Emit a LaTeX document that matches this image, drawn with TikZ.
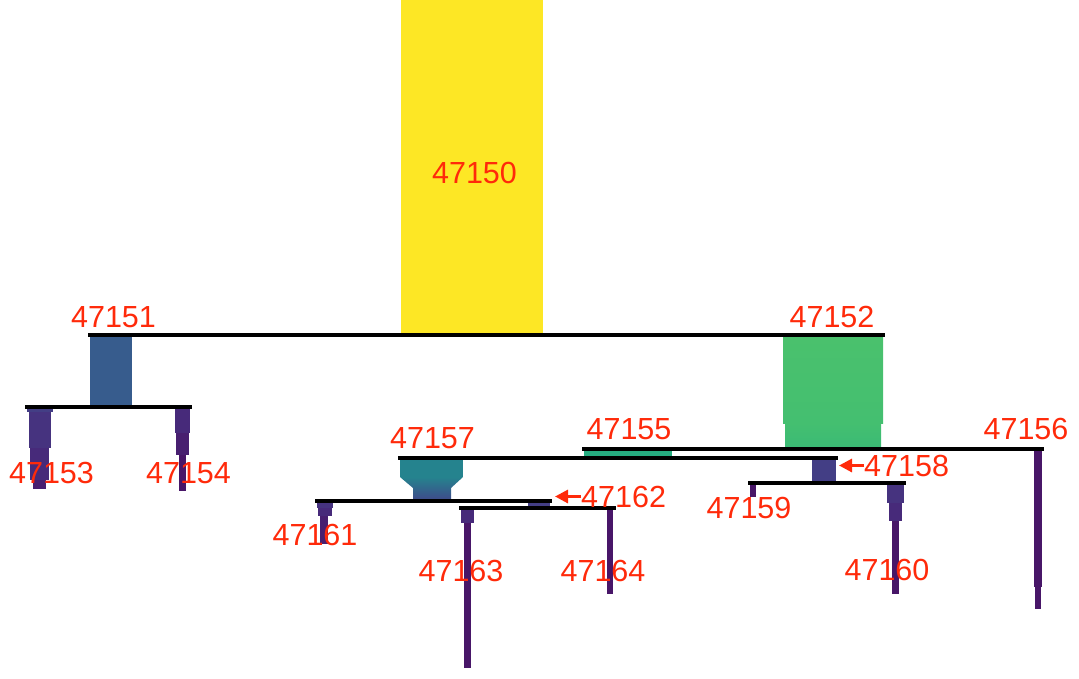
\documentclass[tikz,border=0pt]{standalone}
\usepackage{fontspec}
\setmainfont{Liberation Sans}
\usetikzlibrary{arrows.meta}
\definecolor{lab}{HTML}{FF2A0A}
\definecolor{cyel}{HTML}{FDE725}
\definecolor{cblue}{HTML}{375C8D}
\definecolor{cgreenA}{HTML}{4AC16D}
\definecolor{cgreenM}{HTML}{44BF70}
\definecolor{cgreenB}{HTML}{3BBB75}
\definecolor{cteal}{HTML}{26AD81}
\definecolor{cteal2}{HTML}{25838E}
\definecolor{cblue2}{HTML}{3E4C8A}
\definecolor{pA}{HTML}{433E85}
\definecolor{pB}{HTML}{46337F}
\definecolor{pC}{HTML}{472A7A}
\definecolor{pD}{HTML}{481F70}
\definecolor{pE}{HTML}{481668}
\tikzset{
  lbl/.style={text=lab,font=\fontsize{30.5}{36}\selectfont,inner sep=0pt,anchor=base},
  lblw/.style={lbl,anchor=base west},
  hline/.style={line width=4pt,black},
  arr/.style={draw=lab,line width=3pt,-{Triangle[length=13pt,width=13pt]}},
}
\begin{document}
\begin{tikzpicture}[x=1pt,y=-1pt]
\useasboundingbox (0,0) rectangle (1079,678);
% bars
\fill[cyel] (401,0) rectangle (543,333);
\fill[cblue] (90,336) rectangle (132,405);
% 47153
\fill[pA] (27,408) rectangle (53,412);
\fill[pB] (29,412) rectangle (51,448);
\fill[pC] (30,448) rectangle (49,480);
\fill[pD] (33,480) rectangle (46,489);
% 47154
\fill[pC] (175,408) rectangle (190,433);
\fill[pD] (176,433) rectangle (189,455);
\fill[pE] (179,455) rectangle (186,491);
% 47152
\shade[top color=cgreenA,bottom color=cgreenM] (783,336) rectangle (883,423);
\shade[top color=cgreenM,bottom color=cgreenB] (785,423) rectangle (881,447);
% 47155
\fill[cteal] (584,450) rectangle (672,455.5);
% 47156
\fill[pE] (1034,450) rectangle (1042,587);
\fill[pE] (1035,587) rectangle (1041,609);
% 47157
\fill[cteal2] (400,459) rectangle (463,477);
\shade[top color=cteal2,bottom color=cblue2] (400,477) -- (463,477) -- (451,488) -- (451,499) -- (413,499) -- (413,488) -- cycle;
% 47158
\fill[pA] (812,459) rectangle (836,481);
% 47159
\fill[pE] (750,485) rectangle (756,497);
% 47160
\fill[pB] (887,485) rectangle (904,503);
\fill[pC] (889,503) rectangle (902,521);
\fill[pE] (892,521) rectangle (899,594);
% 47161
\fill[pB] (317,503) rectangle (333,508);
\fill[pC] (318,508) rectangle (332,516);
\fill[pD] (320,516) rectangle (328,544);
% 47162
\fill[pA] (528,502.5) rectangle (550,506.5);
% 47163
\fill[pC] (461,510) rectangle (474,523);
\fill[pE] (464,523) rectangle (471,668);
% 47164
\fill[pE] (607,510) rectangle (613,594);
% horizontal lines
\coordinate (a1) at (88,334.8);   \coordinate (a2) at (885,334.8);
\coordinate (b1) at (25,407);     \coordinate (b2) at (192,407);
\coordinate (c1) at (582,448.5);  \coordinate (c2) at (1044,448.5);
\coordinate (d1) at (398,457.5);  \coordinate (d2) at (838,457.5);
\coordinate (e1) at (315,501);    \coordinate (e2) at (552,501);
\coordinate (f1) at (459,508.3);  \coordinate (f2) at (616,508.3);
\coordinate (g1) at (748,483);    \coordinate (g2) at (906,483);
\draw[hline] (a1) -- (a2);
\draw[hline] (b1) -- (b2);
\draw[hline] (c1) -- (c2);
\draw[hline] (d1) -- (d2);
\draw[hline] (e1) -- (e2);
\draw[hline] (f1) -- (f2);
\draw[hline] (g1) -- (g2);
% labels
\node[lbl] (l47150) at (474.5,183) {47150};
\node[lbl] (l47151) at (113.5,327) {47151};
\node[lbl] (l47152) at (832,327) {47152};
\node[lbl] (l47153) at (51.5,483) {47153};
\node[lbl] (l47154) at (188.5,483) {47154};
\node[lbl] (l47155) at (629,439) {47155};
\node[lbl] (l47156) at (1026,439) {47156};
\node[lbl] (l47157) at (432.5,448) {47157};
\node[lblw] (l47158) at (864,476) {47158};
\node[lbl] (l47159) at (749,518) {47159};
\node[lbl] (l47160) at (887,580) {47160};
\node[lbl] (l47161) at (315,545) {47161};
\node[lblw] (l47162) at (581,507) {47162};
\node[lbl] (l47163) at (461,581) {47163};
\node[lbl] (l47164) at (603,581) {47164};
% arrows
\coordinate (t47158) at (839,466);
\coordinate (t47162) at (555,499);
\draw[arr] (l47158.west) -- (l47158.west -| t47158);
\draw[arr] (l47162.west) -- (l47162.west -| t47162);
\end{tikzpicture}
\end{document}
